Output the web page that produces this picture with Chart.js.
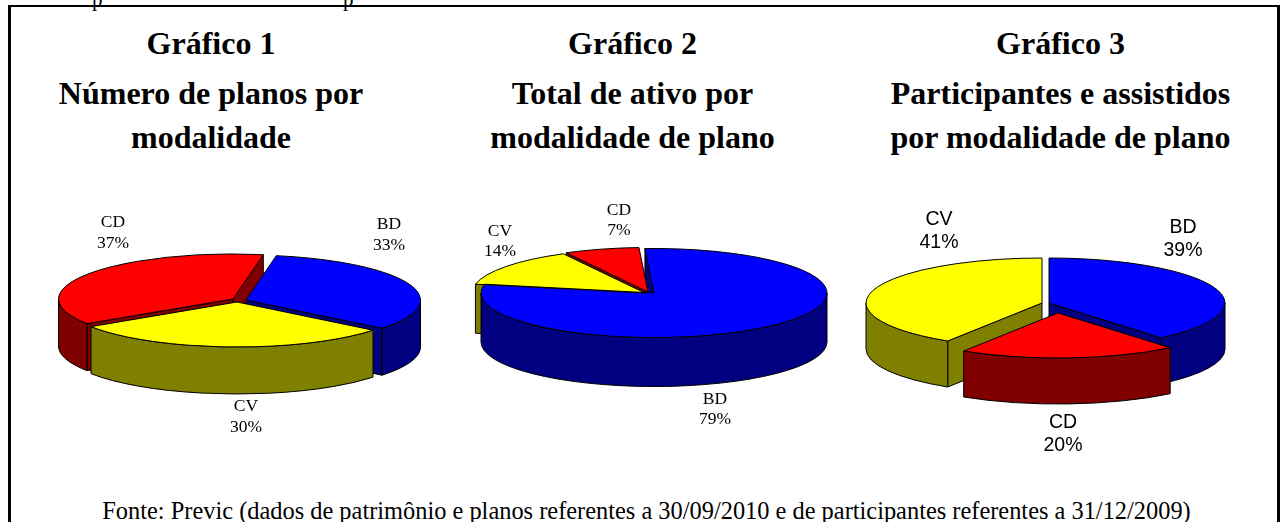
<!DOCTYPE html>
<html>
<head>
<meta charset="utf-8">
<title>Gráficos 1 a 3</title>
<script src="https://cdn.jsdelivr.net/npm/chart.js@4"></script>
<style>
  html, body { margin: 0; padding: 0; background: #fff; }
  #page { position: relative; width: 1284px; height: 522px; overflow: hidden; background: #fff; }
  #frame { position: absolute; left: 8px; top: 5px; width: 1272px; height: 560px; border: solid #000; border-width: 2px 3px; box-sizing: border-box; }
  canvas { position: absolute; left: 0; top: 0; }
  .head { position: absolute; text-align: center; font-family: "Liberation Serif", serif; font-weight: bold; font-size: 32px; color: #000; white-space: nowrap; transform: translateX(-50%); line-height: 44px; }
  #fonte { position: absolute; left: 646.5px; top: 498px; transform: translateX(-50%); font-family: "Liberation Serif", serif; font-size: 24.4px; white-space: nowrap; color: #000; line-height: 26px; }
  .cut { position: absolute; top: -13px; font-family: "Liberation Serif", serif; font-size: 21px; line-height: 24px; color: #000; }
</style>
</head>
<body>
<div id="page">
  <div class="cut" style="left:92px">p</div>
  <div class="cut" style="left:343px">p</div>
  <div id="frame"></div>
  <div class="head" style="left:211px;top:21px">Gráfico 1</div>
  <div class="head" style="left:211px;top:71px">Número de planos por</div>
  <div class="head" style="left:211px;top:115px">modalidade</div>
  <div class="head" style="left:632.5px;top:21px">Gráfico 2</div>
  <div class="head" style="left:632.5px;top:71px">Total de ativo por</div>
  <div class="head" style="left:632.5px;top:115px">modalidade de plano</div>
  <div class="head" style="left:1060.5px;top:21px">Gráfico 3</div>
  <div class="head" style="left:1060.5px;top:71px">Participantes e assistidos</div>
  <div class="head" style="left:1060.5px;top:115px">por modalidade de plano</div>
  <div id="fonte">Fonte: Previc (dados de patrimônio e planos referentes a 30/09/2010 e de participantes referentes a 31/12/2009)</div>
  <canvas id="pie1" width="1284" height="522"></canvas>
  <canvas id="pie2" width="1284" height="522"></canvas>
  <canvas id="pie3" width="1284" height="522"></canvas>
</div>
<script>
// values as printed on the slices, clockwise
const labels1 = ['BD', 'CV', 'CD'];
const values1 = [33, 30, 37];
const labels2 = ['BD', 'CV', 'CD'];
const values2 = [79, 14, 7];
const labels3 = ['BD', 'CD', 'CV'];
const values3 = [39, 20, 41];

const BLUE = ['#0000ff', '#000080'];
const RED = ['#ff0000', '#800000'];
const YELLOW = ['#ffff00', '#808000'];

// pie geometry in page pixels: shift = how far each slice is pulled out
function makePie(id, labels, values, colors, g) {
  const k = g.b / g.a;

  const pie3d = {
    id: 'pie3d',
    afterDatasetsUpdate(chart) {
      chart.getDatasetMeta(0).data.forEach((arc, i) => {
        arc.x += g.shift[i][0];
        arc.y += g.shift[i][1] / k;
      });
    },
    beforeDatasetsDraw(chart) {
      const ctx = chart.ctx;
      const arcs = chart.getDatasetMeta(0).data;
      const order = arcs.map((arc, i) => i).sort((p, q) => {
        return Math.sin((arcs[p].startAngle + arcs[p].endAngle) / 2) - Math.sin((arcs[q].startAngle + arcs[q].endAngle) / 2);
      });
      ctx.save();
      ctx.lineWidth = 1;
      ctx.strokeStyle = '#000';
      order.forEach(i => {
        const arc = arcs[i];
        const ax = arc.x;
        const ay = g.cy + (arc.y - g.cy) * k;
        ctx.fillStyle = colors[i][1];
        // flat cut faces, only the ones turned to the viewer
        if (Math.cos(arc.startAngle) < 0) cutFace(ctx, ax, ay, arc.startAngle);
        if (Math.cos(arc.endAngle) > 0) cutFace(ctx, ax, ay, arc.endAngle);
        // curved rim
        const t0 = Math.max(arc.startAngle, 0);
        const t1 = Math.min(arc.endAngle, Math.PI);
        if (t1 > t0) {
          ctx.beginPath();
          ctx.ellipse(ax, ay, g.a, g.b, 0, t0, t1);
          ctx.lineTo(ax + g.a * Math.cos(t1), ay + g.b * Math.sin(t1) + g.depth);
          ctx.ellipse(ax, ay + g.depth, g.a, g.b, 0, t1, t0, true);
          ctx.closePath();
          ctx.fill();
          ctx.stroke();
        }
      });
      ctx.restore();
      // tops are drawn by the library, flattened to an ellipse
      ctx.save();
      ctx.translate(0, g.cy * (1 - k));
      ctx.scale(1, k);
    },
    afterDatasetsDraw(chart) {
      const ctx = chart.ctx;
      ctx.restore();
      ctx.save();
      ctx.lineWidth = 1;
      ctx.strokeStyle = '#000';
      chart.getDatasetMeta(0).data.forEach(arc => {
        const ax = arc.x;
        const ay = g.cy + (arc.y - g.cy) * k;
        ctx.beginPath();
        ctx.moveTo(ax, ay);
        ctx.ellipse(ax, ay, g.a, g.b, 0, arc.startAngle, arc.endAngle);
        ctx.closePath();
        ctx.stroke();
      });
      ctx.restore();
    },
    afterDraw(chart) {
      const ctx = chart.ctx;
      ctx.save();
      ctx.fillStyle = '#000';
      ctx.textAlign = 'center';
      ctx.textBaseline = 'middle';
      ctx.font = g.font;
      labels.forEach((name, i) => {
        ctx.fillText(name, g.labelAt[i][0], g.labelAt[i][1]);
        ctx.fillText(values[i] + '%', g.labelAt[i][0], g.labelAt[i][1] + g.lineGap);
      });
      ctx.restore();
    }
  };

  function cutFace(ctx, ax, ay, t) {
    const rx = ax + g.a * Math.cos(t);
    const ry = ay + g.b * Math.sin(t);
    ctx.beginPath();
    ctx.moveTo(ax, ay);
    ctx.lineTo(rx, ry);
    ctx.lineTo(rx, ry + g.depth);
    ctx.lineTo(ax, ay + g.depth);
    ctx.closePath();
    ctx.fill();
    ctx.stroke();
  }

  return new Chart(document.getElementById(id), {
    type: 'pie',
    data: {
      labels: labels,
      datasets: [{
        data: values,
        backgroundColor: colors.map(c => c[0]),
        borderWidth: 0,
        clip: false
      }]
    },
    options: {
      responsive: false,
      animation: false,
      events: [],
      rotation: g.rotation,
      layout: {
        padding: { left: g.cx - g.a, right: 1284 - g.cx - g.a, top: g.cy - g.a, bottom: 522 - g.cy - g.a }
      },
      plugins: { legend: { display: false }, tooltip: { enabled: false } }
    },
    plugins: [pie3d]
  });
}

const serifLabel = '17.5px "Liberation Serif", serif';
const sansLabel = '19.5px "Liberation Sans", sans-serif';

makePie('pie1', labels1, values1, [BLUE, YELLOW, RED], {
  cx: 239, cy: 300, a: 174.5, b: 45, depth: 47, rotation: 10,
  shift: [[7, 0], [-2, 2], [-6, -1]],
  labelAt: [[389, 224], [246, 406], [113, 222]], lineGap: 21, font: serifLabel
});
makePie('pie2', labels2, values2, [BLUE, YELLOW, RED], {
  cx: 649, cy: 293, a: 173, b: 44.5, depth: 49, rotation: -3,
  shift: [[5, 0], [-4, 0], [-1, -1]],
  labelAt: [[715, 399], [500, 231], [619, 210]], lineGap: 20, font: serifLabel
});
makePie('pie3', labels3, values3, [BLUE, RED, YELLOW], {
  cx: 1045.5, cy: 303, a: 176, b: 45, depth: 46, rotation: 0,
  shift: [[3.5, 0], [12.5, 10], [-3.5, 0]],
  labelAt: [[1183, 228], [1063, 423], [939, 220]], lineGap: 23, font: sansLabel
});
</script>
</body>
</html>
